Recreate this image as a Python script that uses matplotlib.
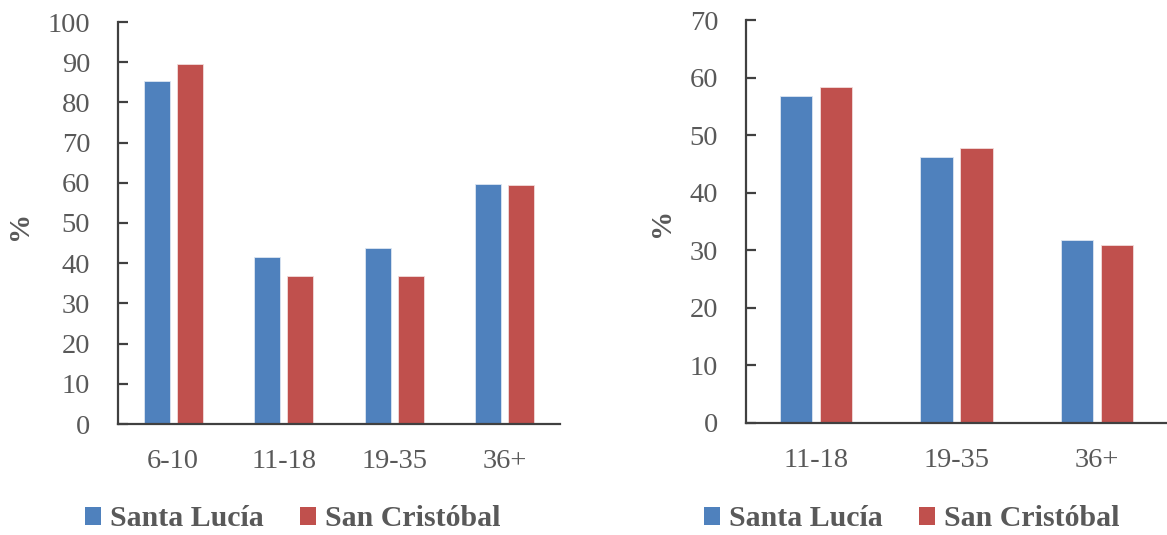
import numpy as np
import matplotlib
matplotlib.use("Agg")
import matplotlib.pyplot as plt
from matplotlib.patches import Patch

# data
cats_left = ["6-10", "11-18", "19-35", "36+"]
santa_lucia_left = [85.3, 41.5, 43.7, 59.8]
san_cristobal_left = [89.5, 36.7, 36.7, 59.5]

cats_right = ["11-18", "19-35", "36+"]
santa_lucia_right = [56.8, 46.2, 31.8]
san_cristobal_right = [58.4, 47.8, 31.0]

series_names = ["Santa Lucía", "San Cristóbal"]
blue = "#4F81BD"
red = "#C0504D"
txt = "#595959"
axc = "#404040"

plt.rcParams["font.family"] = ["Liberation Serif", "DejaVu Serif"]

W, H = 1167, 535
fig = plt.figure(figsize=(W / 100, H / 100), dpi=100)


def px_axes(x0, y0, x1, y1):
    return fig.add_axes([x0 / W, (H - y1) / H, (x1 - x0) / W, (y1 - y0) / H])


def draw(ax, cats, a, b, ymax, step, width, off):
    x = np.arange(len(cats))
    ax.bar(x - off, a, width, color=blue, edgecolor="#dce6f2", linewidth=0.6)
    ax.bar(x + off, b, width, color=red, edgecolor="#f2dcdb", linewidth=0.6)
    ax.set_xlim(-0.5, len(cats) - 0.5)
    ax.set_ylim(0, ymax)
    ax.set_yticks(np.arange(0, ymax + 1, step))
    ax.set_xticks(x)
    ax.set_xticklabels(cats)
    for s in ["top", "right"]:
        ax.spines[s].set_visible(False)
    for s in ["left", "bottom"]:
        ax.spines[s].set_color(axc)
        ax.spines[s].set_linewidth(1.6)
    ax.tick_params(axis="y", direction="in", length=7, width=1.6, color=axc,
                   labelsize=20.5, labelcolor=txt, pad=20)
    ax.tick_params(axis="x", length=0, labelsize=20.5, labelcolor=txt, pad=18)


ax1 = px_axes(118, 22, 560, 424)
draw(ax1, cats_left, santa_lucia_left, san_cristobal_left, 100, 10, 0.235, 0.149)
ax2 = px_axes(746, 20, 1167, 423)
draw(ax2, cats_right, santa_lucia_right, san_cristobal_right, 70, 10, 0.229, 0.143)

fig.text(20 / W, 1 - 225 / H, "%", rotation=90, ha="center", va="center",
         fontsize=21, fontweight="bold", color=txt)
fig.text(662 / W, 1 - 222 / H, "%", rotation=90, ha="center", va="center",
         fontsize=21, fontweight="bold", color=txt)

handles = [Patch(facecolor=blue), Patch(facecolor=red)]
for cx in [293, 912]:
    fig.legend(handles, series_names, loc="center", bbox_to_anchor=(cx / W, 1 - 519 / H),
               ncol=2, frameon=False, handlelength=0.55, handleheight=0.55,
               handletextpad=0.3, columnspacing=1.2,
               prop={"size": 21.5, "weight": "bold"}, labelcolor=txt)

fig.savefig("out.png", dpi=100)
